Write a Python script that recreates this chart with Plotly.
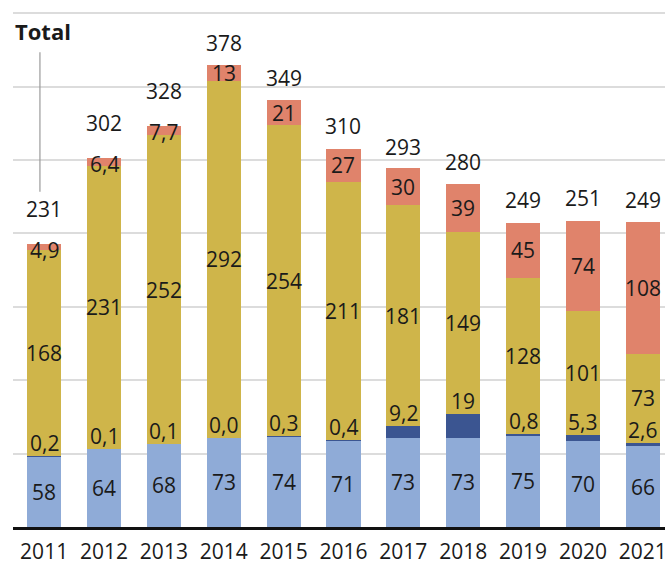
import plotly.graph_objects as go

years = ["2011", "2012", "2013", "2014", "2015", "2016", "2017", "2018", "2019", "2020", "2021"]
light_blue = [58, 64, 68, 73, 74, 71, 73, 73, 75, 70, 66]
dark_blue = [0.2, 0.1, 0.1, 0.0, 0.3, 0.4, 9.2, 19, 0.8, 5.3, 2.6]
gold = [168, 231, 252, 292, 254, 211, 181, 149, 128, 101, 73]
salmon = [4.9, 6.4, 7.7, 13, 21, 27, 30, 39, 45, 74, 108]
totals = [231, 302, 328, 378, 349, 310, 293, 280, 249, 251, 249]

C_LIGHT = "#8fabd7"
C_DARK = "#3b5591"
C_GOLD = "#cfb54a"
C_SALMON = "#e0836b"
TXT = "#1a1a1a"
FONT = "Open Sans"
FS = 21


def fmt(v):
    # one decimal (comma separator) for small values, integers otherwise
    if v < 10:
        return f"{v:.1f}".replace(".", ",")
    return f"{v:.0f}"


x = list(range(len(years)))
fig = go.Figure()
for vals, col in [(light_blue, C_LIGHT), (dark_blue, C_DARK), (gold, C_GOLD), (salmon, C_SALMON)]:
    fig.add_trace(go.Bar(x=x, y=vals, marker=dict(color=col, line=dict(width=0)),
                         hoverinfo="skip", showlegend=False))

ann = []
for i in x:
    b0 = light_blue[i]
    b1 = b0 + dark_blue[i]
    b2 = b1 + gold[i]
    top = b2 + salmon[i]
    # light blue, centred
    ann.append(dict(x=i, y=b0 / 2, text=fmt(light_blue[i])))
    # dark blue, sitting just above its segment
    ann.append(dict(x=i, y=b1, text=fmt(dark_blue[i]), yanchor="bottom", yshift=-3))
    # gold, centred
    ann.append(dict(x=i, y=(b1 + b2) / 2, text=fmt(gold[i])))
    # salmon: centred, or hanging from the top when the segment is thin
    thin = salmon[i] < 10
    if thin:
        ann.append(dict(x=i, y=top, text=fmt(salmon[i]), yshift=-6))
    else:
        ann.append(dict(x=i, y=(b2 + top) / 2, text=fmt(salmon[i])))
    # total above the bar
    ann.append(dict(x=i, y=totals[i], text=str(totals[i]), yanchor="bottom",
                    yshift=19 if thin else 6))

annotations = []
for a in ann:
    d = dict(xref="x", yref="y", showarrow=False,
             font=dict(family=FONT, size=FS, color=TXT))
    d.update(a)
    annotations.append(d)

annotations.append(dict(xref="paper", yref="paper", x=0, y=0.963, xanchor="left",
                        yanchor="middle", showarrow=False, text="<b>Total</b>",
                        font=dict(family=FONT, size=22, color=TXT)))

fig.update_layout(
    width=667, height=565,
    margin=dict(l=13, r=0, t=12, b=37),
    paper_bgcolor="white", plot_bgcolor="white",
    barmode="stack", bargap=0.43,
    annotations=annotations,
    shapes=[dict(type="line", xref="x", yref="y", x0=-0.07, x1=-0.07, y0=274, y1=388,
                 line=dict(color="#9a9a9a", width=1.2))],
    xaxis=dict(range=[-0.52, 10.37], tickmode="array", tickvals=x, ticktext=years,
               showgrid=False, zeroline=False, showline=True, linecolor="#111",
               linewidth=3, ticks="", ticklabelstandoff=4, ticklabeloverflow="allow",
               tickfont=dict(family=FONT, size=FS, color=TXT)),
    yaxis=dict(range=[0, 421], tickmode="array", tickvals=[60, 120, 180, 240, 300, 360, 420],
               showgrid=True, gridcolor="#dcdcdc",
               gridwidth=1.5, showticklabels=False, zeroline=False, ticks=""),
)

fig.write_html("out.html")
